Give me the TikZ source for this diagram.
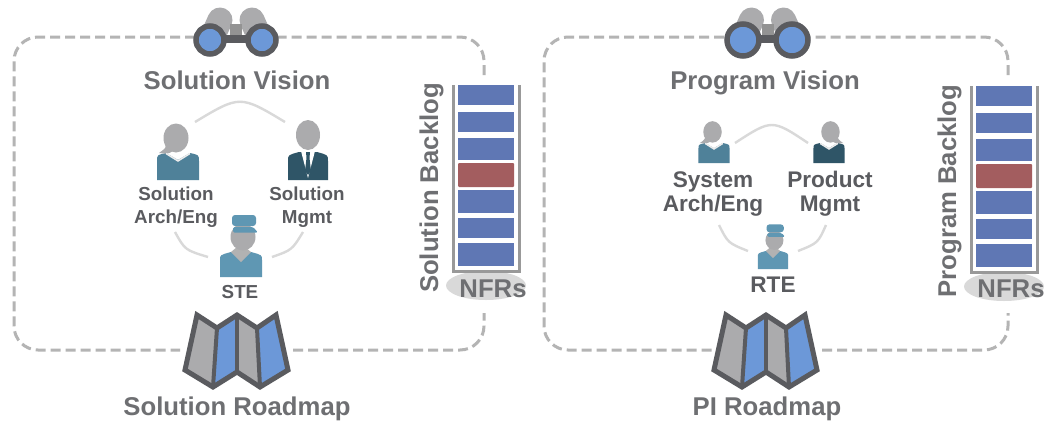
\documentclass[tikz,border=0pt]{standalone}
\usepackage{fontspec}
\setmainfont{Liberation Sans}
\definecolor{pDash}{HTML}{B4B4B4}
\definecolor{pText}{HTML}{6E6F72}
\definecolor{pDark}{HTML}{5A5B5F}
\definecolor{pSkin}{HTML}{ABABAD}
\definecolor{pLens}{HTML}{6C98D8}
\definecolor{pItem}{HTML}{5F77B4}
\definecolor{pRed}{HTML}{A35D5F}
\definecolor{pTeal}{HTML}{4F8199}
\definecolor{pNavy}{HTML}{2F5567}
\definecolor{pCap}{HTML}{5F97B3}
\tikzset{
frameline/.style={pDash, line width=3pt, dash pattern=on 10pt off 5pt},
ringline/.style={gray!30, line width=2.4pt},
bigtext/.style={font=\fontsize{25.7}{25.7}\bfseries\selectfont, text=pText, inner sep=0pt, anchor=base},
roletext/.style={font=\fontsize{18.8}{23.5}\bfseries\selectfont, text=pDark, inner sep=0pt, align=center},
roletextb/.style={font=\fontsize{22.6}{24}\bfseries\selectfont, text=pDark, inner sep=0pt, align=center},
}
% centre x, half distance of the lenses, radius of a lens
\newcommand{\pBinoculars}[3]{%
\begin{scope}[xshift=#1]
\draw[pSkin, line width=25pt, line cap=round] (-24,38) -- (-16,20);
\draw[pSkin, line width=25pt, line cap=round] (24,38) -- (16,20);
\fill[gray!85] (-6,24) rectangle (6,36);
\fill[pDark] (-10,35) rectangle (10,43);
\draw[pDark, line width=5.5pt, fill=pLens] (-#2,40) circle (#3);
\draw[pDark, line width=5.5pt, fill=pLens] (#2,40) circle (#3);
\end{scope}}
\newcommand{\pMap}[1]{%
\begin{scope}[xshift=#1, line join=miter]
\fill[pSkin] (197,315) -- (217,328) -- (213,387) -- (185,370) -- cycle;
\fill[pLens] (217,328) -- (237,315) -- (237,372) -- (213,387) -- cycle;
\fill[pSkin] (237,315) -- (257,328) -- (260,387) -- (237,372) -- cycle;
\fill[pLens] (257,328) -- (276,315) -- (288,370) -- (260,387) -- cycle;
\draw[pDark, line width=5pt] (197,315) -- (217,328) -- (237,315) -- (257,328) -- (276,315) -- (288,370) -- (260,387) -- (237,372) -- (213,387) -- (185,370) -- cycle;
\draw[pDark, line width=4pt] (217,328) -- (213,387);
\draw[pDark, line width=4pt] (237,315) -- (237,372);
\draw[pDark, line width=4pt] (257,328) -- (260,387);
\end{scope}}
\newcommand{\pBacklog}[2]{%
\begin{scope}[shift={(#1,#2)}]
\fill[gray!30] (486,285.5) ellipse (40 and 14.5);
\draw[gray!80, line width=3pt] (453,85) -- (453,271) -- (519,271) -- (519,85);
\foreach \ya/\yb in {85/105,112/132,138/160,190/213,218/238,243/266}
\fill[pItem] (458,\ya) rectangle (514,\yb);
\fill[pRed, rounded corners=1pt] (458,163) rectangle (514,187);
\end{scope}}
% x, base y, scale in x, scale in y, colour of the body
\newcommand{\pFemale}[5]{%
\begin{scope}[shift={(#1,#2)}, xscale=#3, yscale=#4]
\fill[#5] (-21,0) -- (-21,-19) .. controls (-21,-25) .. (-12,-27) -- (0,-20) -- (12,-27) .. controls (21,-25) .. (21,-19) -- (21,0) -- cycle;
\fill[pSkin] (-2,-42) ellipse (12.5 and 14.5);
\fill[pSkin] (-12,-38) .. controls (-12,-32) .. (-19,-27) .. controls (-10,-26) .. (-5,-29) -- cycle;
\draw[white!85!gray, line width=1.5pt] (-12,-26.5) -- (0,-19) -- (12,-26.5);
\end{scope}}
\newcommand{\pManager}[4]{%
\begin{scope}[shift={(#1,#2)}, xscale=#3, yscale=#3]
\fill[#4] (-20,0) -- (-20,-19) .. controls (-20,-25) .. (-9,-28) -- (9,-28) .. controls (20,-25) .. (20,-19) -- (20,0) -- cycle;
\fill[white] (-7,-29) -- (0,-2) -- (7,-29) -- cycle;
\fill[#4] (-2,-28) -- (2,-28) -- (1.5,-22) -- (3,-9) -- (0,-5) -- (-3,-9) -- (-1.5,-22) -- cycle;
\fill[pSkin] (0,-45) ellipse (12 and 15);
\end{scope}}
\newcommand{\pConductor}[4]{%
\begin{scope}[shift={(#1,#2)}, xscale=#3, yscale=#3]
\fill[#4] (-21,0) -- (-21,-17) .. controls (-21,-22) .. (-10,-25) -- (10,-25) .. controls (21,-22) .. (21,-17) -- (21,0) -- cycle;
\fill[gray!60] (-10,-25) -- (0,-15) -- (10,-25) -- (4,-30) -- (-4,-30) -- cycle;
\fill[pSkin] (2,-40) ellipse (12.5 and 13.5);
\fill[#4, rounded corners=3pt] (-9,-62) rectangle (15,-51);
\fill[#4, rounded corners=1.5pt] (-8,-50) -- (12,-50) -- (17,-44.5) -- (-8,-44.5) -- cycle;
\end{scope}}
\begin{document}
\begin{tikzpicture}[x=1pt,y=-1pt]
\useasboundingbox (0,0) rectangle (1061,426);
\fill[white] (0,0) rectangle (1061,426);
% left frame
\draw[frameline, rounded corners=24pt] (484,75) -- (484,37) -- (278,37);
\draw[frameline, rounded corners=24pt] (195,37) -- (14,37) -- (14,350) -- (180,350);
\draw[frameline, rounded corners=24pt] (293,350) -- (484,350) -- (484,313);
% right frame
\draw[frameline, rounded corners=24pt] (1008,75) -- (1008,37) -- (810,37);
\draw[frameline, rounded corners=24pt] (724,37) -- (544,37) -- (544,350) -- (712,350);
\draw[frameline, rounded corners=24pt] (822,350) -- (1008,350) -- (1008,313);
\pBinoculars{236pt}{26}{14}
\pBinoculars{767.5pt}{24.5}{16}
\pMap{0pt}
\pMap{529pt}
\pBacklog{0}{0}
\pBacklog{518}{1}
\node[bigtext] (solVision) at (237,89) {Solution Vision};
\node[bigtext] (progVision) at (765,89) {Program Vision};
\node[bigtext] (solRoadmap) at (237,415) {Solution Roadmap};
\node[bigtext] (piRoadmap) at (767,415) {PI Roadmap};
\node[bigtext, rotate=90] (solBacklog) at (438,188) {Solution Backlog};
\node[bigtext, rotate=90] (progBacklog) at (956,191) {Program Backlog};
\node[bigtext] (solNfrs) at (493,297) {NFRs};
\node[bigtext] (progNfrs) at (1011,297) {NFRs};
% left ring
\coordinate (solTopA) at (195,122);
\coordinate (solTopB) at (285,122);
\coordinate (solLeftA) at (175,232);
\coordinate (solLeftB) at (208,257);
\coordinate (solRightA) at (272,257);
\coordinate (solRightB) at (303,232);
\draw[ringline] (solTopA) .. controls (240,95) .. (solTopB);
\draw[ringline] (solLeftA) .. controls (185,250) .. (solLeftB);
\draw[ringline] (solRightA) .. controls (292,250) .. (solRightB);
\pFemale{178}{180}{1}{1}{pTeal}
\pManager{308}{180}{1}{pNavy}
\pConductor{241}{277}{1}{pCap}
\node[roletext] (solArch) at (176,207) {Solution\\Arch/Eng};
\node[roletext] (solMgmt) at (307,207) {Solution\\Mgmt};
\node[roletext, anchor=base] (ste) at (240,298) {STE};
% right ring
\coordinate (progTopA) at (735,143);
\coordinate (progTopB) at (808,143);
\coordinate (progLeftA) at (719,225);
\coordinate (progLeftB) at (748,251);
\coordinate (progRightA) at (798,251);
\coordinate (progRightB) at (826,225);
\draw[ringline] (progTopA) .. controls (772,119) .. (progTopB);
\draw[ringline] (progLeftA) .. controls (728,243) .. (progLeftB);
\draw[ringline] (progRightA) .. controls (818,243) .. (progRightB);
\pFemale{714}{163}{.74}{.74}{pTeal}
\pFemale{829}{163}{-.74}{.74}{pNavy}
\pConductor{773}{269}{.72}{pCap}
\node[roletextb] (sysArch) at (713,194) {System\\Arch/Eng};
\node[roletextb] (prodMgmt) at (830,194) {Product\\Mgmt};
\node[roletextb, anchor=base] (rte) at (773,292) {RTE};
\end{tikzpicture}
\end{document}
